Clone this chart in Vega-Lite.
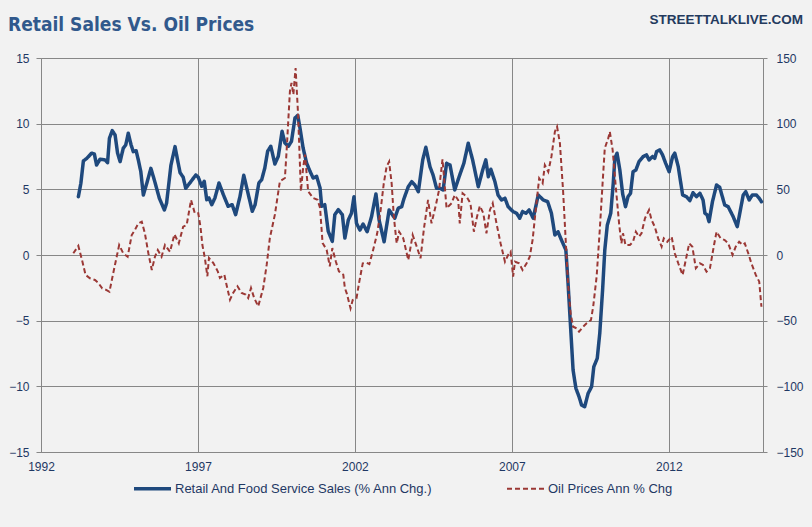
{
  "$schema": "https://vega.github.io/schema/vega-lite/v6.json",
  "width": 722,
  "height": 394,
  "autosize": {"type": "none"},
  "padding": {"left": 41, "top": 58, "right": 49, "bottom": 75},
  "background": "#f2f2f2",
  "config": {
    "view": {"stroke": null},
    "font": "Liberation Sans",
    "axis": {"labelFont": "Liberation Sans", "labelFontSize": 12, "labelColor": "#1f3864", "gridColor": "#878787", "domainColor": "#878787", "tickColor": "#878787", "gridOpacity": 1, "domainWidth": 1, "gridWidth": 1}
  },
  "datasets": {
    "retail": [
      {"t":1993.19,"v":4.44},{"t":1993.27,"v":5.46},{"t":1993.35,"v":7.16},{"t":1993.46,"v":7.36},{"t":1993.61,"v":7.75},{"t":1993.70,"v":7.69},{"t":1993.77,"v":6.85},{"t":1993.88,"v":7.29},{"t":1994.04,"v":7.24},{"t":1994.12,"v":7.03},{"t":1994.18,"v":8.89},{"t":1994.27,"v":9.47},{"t":1994.36,"v":9.14},{"t":1994.44,"v":7.75},{"t":1994.52,"v":7.11},{"t":1994.62,"v":8.13},{"t":1994.70,"v":8.38},{"t":1994.78,"v":9.27},{"t":1994.87,"v":8.38},{"t":1994.94,"v":7.87},{"t":1995.03,"v":7.94},{"t":1995.10,"v":7.24},{"t":1995.18,"v":6.34},{"t":1995.26,"v":4.57},{"t":1995.37,"v":5.46},{"t":1995.50,"v":6.60},{"t":1995.61,"v":5.71},{"t":1995.77,"v":4.32},{"t":1995.93,"v":3.43},{"t":1996.00,"v":3.94},{"t":1996.14,"v":6.85},{"t":1996.27,"v":8.25},{"t":1996.35,"v":7.24},{"t":1996.43,"v":6.27},{"t":1996.53,"v":5.92},{"t":1996.61,"v":5.08},{"t":1996.75,"v":5.51},{"t":1996.93,"v":6.09},{"t":1997.01,"v":5.92},{"t":1997.12,"v":5.23},{"t":1997.20,"v":5.61},{"t":1997.28,"v":4.21},{"t":1997.35,"v":4.34},{"t":1997.44,"v":3.83},{"t":1997.54,"v":4.34},{"t":1997.67,"v":5.48},{"t":1997.81,"v":4.59},{"t":1997.96,"v":3.71},{"t":1998.09,"v":3.83},{"t":1998.20,"v":3.07},{"t":1998.34,"v":4.47},{"t":1998.46,"v":6.07},{"t":1998.58,"v":4.85},{"t":1998.73,"v":3.33},{"t":1998.82,"v":3.83},{"t":1998.94,"v":5.48},{"t":1999.03,"v":5.73},{"t":1999.13,"v":6.63},{"t":1999.22,"v":7.90},{"t":1999.32,"v":8.28},{"t":1999.45,"v":6.93},{"t":1999.56,"v":7.52},{"t":1999.68,"v":9.42},{"t":1999.77,"v":8.53},{"t":1999.88,"v":8.28},{"t":1999.98,"v":8.66},{"t":2000.09,"v":10.43},{"t":2000.18,"v":10.64},{"t":2000.25,"v":9.67},{"t":2000.35,"v":8.15},{"t":2000.46,"v":7.01},{"t":2000.57,"v":6.37},{"t":2000.67,"v":5.86},{"t":2000.78,"v":5.99},{"t":2000.89,"v":5.10},{"t":2000.94,"v":3.71},{"t":2001.04,"v":3.83},{"t":2001.15,"v":1.81},{"t":2001.28,"v":1.04},{"t":2001.36,"v":3.07},{"t":2001.47,"v":3.45},{"t":2001.60,"v":3.07},{"t":2001.68,"v":1.29},{"t":2001.79,"v":2.67},{"t":2001.89,"v":3.18},{"t":2001.97,"v":4.44},{"t":2002.05,"v":2.41},{"t":2002.16,"v":1.90},{"t":2002.26,"v":2.36},{"t":2002.39,"v":1.77},{"t":2002.53,"v":2.92},{"t":2002.67,"v":4.65},{"t":2002.77,"v":2.67},{"t":2002.93,"v":1.01},{"t":2003.09,"v":3.43},{"t":2003.27,"v":2.80},{"t":2003.38,"v":3.56},{"t":2003.49,"v":3.68},{"t":2003.56,"v":4.27},{"t":2003.70,"v":5.20},{"t":2003.81,"v":5.58},{"t":2003.91,"v":5.33},{"t":2004.02,"v":4.82},{"t":2004.16,"v":7.24},{"t":2004.26,"v":8.20},{"t":2004.39,"v":6.73},{"t":2004.49,"v":6.09},{"t":2004.60,"v":5.08},{"t":2004.71,"v":5.08},{"t":2004.81,"v":4.95},{"t":2004.92,"v":6.98},{"t":2005.03,"v":6.85},{"t":2005.18,"v":4.95},{"t":2005.32,"v":5.96},{"t":2005.47,"v":6.98},{"t":2005.61,"v":8.51},{"t":2005.75,"v":7.24},{"t":2005.93,"v":5.20},{"t":2006.07,"v":6.47},{"t":2006.17,"v":7.24},{"t":2006.25,"v":5.96},{"t":2006.33,"v":6.53},{"t":2006.46,"v":5.58},{"t":2006.56,"v":4.57},{"t":2006.67,"v":4.19},{"t":2006.78,"v":4.32},{"t":2006.88,"v":3.68},{"t":2007.04,"v":3.30},{"t":2007.15,"v":3.18},{"t":2007.25,"v":2.80},{"t":2007.34,"v":3.30},{"t":2007.45,"v":3.18},{"t":2007.55,"v":3.43},{"t":2007.68,"v":2.80},{"t":2007.84,"v":4.57},{"t":2008.00,"v":4.19},{"t":2008.14,"v":4.06},{"t":2008.26,"v":3.18},{"t":2008.37,"v":1.52},{"t":2008.47,"v":1.77},{"t":2008.58,"v":1.14},{"t":2008.72,"v":0.38},{"t":2008.79,"v":-2.16},{"t":2008.87,"v":-5.46},{"t":2008.95,"v":-8.76},{"t":2009.04,"v":-10.15},{"t":2009.14,"v":-10.79},{"t":2009.22,"v":-11.42},{"t":2009.32,"v":-11.55},{"t":2009.43,"v":-10.53},{"t":2009.54,"v":-10.03},{"t":2009.61,"v":-8.51},{"t":2009.72,"v":-7.87},{"t":2009.80,"v":-5.96},{"t":2009.89,"v":-2.67},{"t":2009.96,"v":0.38},{"t":2010.04,"v":2.28},{"t":2010.15,"v":3.18},{"t":2010.23,"v":5.46},{"t":2010.28,"v":7.36},{"t":2010.35,"v":7.75},{"t":2010.44,"v":6.47},{"t":2010.53,"v":4.65},{"t":2010.62,"v":3.68},{"t":2010.70,"v":4.44},{"t":2010.78,"v":4.70},{"t":2010.86,"v":6.34},{"t":2010.95,"v":6.47},{"t":2011.05,"v":7.11},{"t":2011.18,"v":7.49},{"t":2011.29,"v":7.62},{"t":2011.37,"v":7.24},{"t":2011.48,"v":7.49},{"t":2011.55,"v":7.36},{"t":2011.61,"v":7.87},{"t":2011.71,"v":8.00},{"t":2011.80,"v":7.62},{"t":2011.90,"v":6.98},{"t":2012.01,"v":6.34},{"t":2012.12,"v":7.49},{"t":2012.19,"v":7.75},{"t":2012.30,"v":6.73},{"t":2012.44,"v":4.57},{"t":2012.56,"v":4.44},{"t":2012.67,"v":4.14},{"t":2012.77,"v":4.74},{"t":2012.88,"v":4.44},{"t":2012.99,"v":4.70},{"t":2013.09,"v":4.19},{"t":2013.15,"v":3.18},{"t":2013.22,"v":3.05},{"t":2013.28,"v":2.54},{"t":2013.39,"v":4.06},{"t":2013.52,"v":5.33},{"t":2013.62,"v":5.16},{"t":2013.78,"v":3.81},{"t":2013.89,"v":3.68},{"t":2014.05,"v":2.92},{"t":2014.18,"v":2.16},{"t":2014.28,"v":3.43},{"t":2014.37,"v":4.57},{"t":2014.45,"v":4.82},{"t":2014.56,"v":4.19},{"t":2014.66,"v":4.57},{"t":2014.79,"v":4.57},{"t":2014.88,"v":4.32},{"t":2014.95,"v":4.06}
    ],
    "oil": [
      {"t":1993.03,"v":1.3},{"t":1993.19,"v":6.9},{"t":1993.32,"v":-5.1},{"t":1993.42,"v":-15.2},{"t":1993.56,"v":-17.7},{"t":1993.72,"v":-19.0},{"t":1993.82,"v":-21.1},{"t":1993.95,"v":-25.4},{"t":1994.09,"v":-26.7},{"t":1994.18,"v":-28.0},{"t":1994.30,"v":-13.9},{"t":1994.49,"v":7.6},{"t":1994.62,"v":1.3},{"t":1994.76,"v":-1.3},{"t":1994.89,"v":15.2},{"t":1994.99,"v":19.0},{"t":1995.10,"v":24.1},{"t":1995.21,"v":25.4},{"t":1995.31,"v":16.5},{"t":1995.42,"v":1.3},{"t":1995.53,"v":-11.4},{"t":1995.63,"v":-1.3},{"t":1995.72,"v":3.8},{"t":1995.84,"v":-1.3},{"t":1995.95,"v":7.6},{"t":1996.11,"v":2.5},{"t":1996.25,"v":15.8},{"t":1996.39,"v":8.9},{"t":1996.53,"v":21.6},{"t":1996.64,"v":22.8},{"t":1996.78,"v":41.9},{"t":1996.90,"v":31.8},{"t":1997.01,"v":31.8},{"t":1997.08,"v":21.6},{"t":1997.14,"v":7.8},{"t":1997.22,"v":-2.3},{"t":1997.30,"v":-16.2},{"t":1997.35,"v":-2.3},{"t":1997.49,"v":-6.1},{"t":1997.63,"v":-12.4},{"t":1997.70,"v":-17.5},{"t":1997.84,"v":-15.0},{"t":1997.91,"v":-22.6},{"t":1998.02,"v":-34.0},{"t":1998.12,"v":-28.9},{"t":1998.26,"v":-23.8},{"t":1998.39,"v":-28.9},{"t":1998.52,"v":-30.2},{"t":1998.60,"v":-32.7},{"t":1998.69,"v":-25.1},{"t":1998.79,"v":-32.7},{"t":1998.92,"v":-39.1},{"t":1999.08,"v":-25.1},{"t":1999.19,"v":-7.4},{"t":1999.29,"v":12.9},{"t":1999.45,"v":30.7},{"t":1999.61,"v":56.1},{"t":1999.77,"v":58.6},{"t":1999.82,"v":77.7},{"t":1999.93,"v":124.7},{"t":1999.98,"v":131.0},{"t":2000.04,"v":122.1},{"t":2000.11,"v":142.4},{"t":2000.19,"v":106.9},{"t":2000.28,"v":48.5},{"t":2000.35,"v":66.3},{"t":2000.41,"v":76.4},{"t":2000.51,"v":48.5},{"t":2000.67,"v":43.4},{"t":2000.81,"v":42.1},{"t":2000.89,"v":35.8},{"t":2000.97,"v":9.1},{"t":2001.10,"v":4.0},{"t":2001.20,"v":-8.6},{"t":2001.28,"v":5.3},{"t":2001.39,"v":-4.8},{"t":2001.49,"v":-12.4},{"t":2001.63,"v":-15.0},{"t":2001.68,"v":-25.1},{"t":2001.74,"v":-29.2},{"t":2001.86,"v":-40.6},{"t":2001.93,"v":-34.3},{"t":2002.05,"v":-33.0},{"t":2002.14,"v":-20.3},{"t":2002.25,"v":-6.3},{"t":2002.37,"v":-5.9},{"t":2002.46,"v":-6.9},{"t":2002.58,"v":3.8},{"t":2002.71,"v":16.5},{"t":2002.82,"v":34.3},{"t":2002.92,"v":54.6},{"t":2003.01,"v":67.3},{"t":2003.09,"v":71.1},{"t":2003.17,"v":54.6},{"t":2003.24,"v":29.2},{"t":2003.33,"v":8.9},{"t":2003.41,"v":17.7},{"t":2003.54,"v":12.7},{"t":2003.70,"v":-3.8},{"t":2003.84,"v":15.2},{"t":2003.97,"v":6.3},{"t":2004.09,"v":-2.5},{"t":2004.20,"v":20.3},{"t":2004.33,"v":41.9},{"t":2004.44,"v":24.1},{"t":2004.58,"v":38.1},{"t":2004.68,"v":49.5},{"t":2004.79,"v":72.9},{"t":2004.92,"v":35.6},{"t":2005.08,"v":39.4},{"t":2005.18,"v":45.7},{"t":2005.29,"v":41.9},{"t":2005.34,"v":24.1},{"t":2005.43,"v":47.0},{"t":2005.56,"v":44.4},{"t":2005.68,"v":39.4},{"t":2005.79,"v":17.7},{"t":2005.89,"v":29.2},{"t":2005.98,"v":37.3},{"t":2006.09,"v":31.8},{"t":2006.19,"v":16.5},{"t":2006.30,"v":34.3},{"t":2006.39,"v":39.4},{"t":2006.51,"v":24.1},{"t":2006.64,"v":8.9},{"t":2006.78,"v":-5.1},{"t":2006.88,"v":0.0},{"t":2006.96,"v":2.5},{"t":2007.04,"v":-16.5},{"t":2007.10,"v":-5.1},{"t":2007.23,"v":-6.3},{"t":2007.34,"v":-11.4},{"t":2007.47,"v":-6.3},{"t":2007.57,"v":-1.3},{"t":2007.66,"v":11.4},{"t":2007.76,"v":34.3},{"t":2007.87,"v":58.4},{"t":2007.98,"v":54.6},{"t":2008.05,"v":68.5},{"t":2008.16,"v":63.4},{"t":2008.26,"v":74.9},{"t":2008.37,"v":93.9},{"t":2008.44,"v":97.7},{"t":2008.53,"v":85.1},{"t":2008.63,"v":49.5},{"t":2008.72,"v":8.9},{"t":2008.79,"v":-21.6},{"t":2008.87,"v":-44.4},{"t":2008.95,"v":-54.6},{"t":2009.06,"v":-55.8},{"t":2009.14,"v":-58.4},{"t":2009.27,"v":-54.6},{"t":2009.38,"v":-52.0},{"t":2009.52,"v":-49.5},{"t":2009.59,"v":-39.4},{"t":2009.70,"v":-16.5},{"t":2009.80,"v":19.0},{"t":2009.89,"v":54.6},{"t":2009.96,"v":81.3},{"t":2010.07,"v":88.9},{"t":2010.12,"v":93.9},{"t":2010.21,"v":80.0},{"t":2010.31,"v":52.0},{"t":2010.42,"v":22.8},{"t":2010.49,"v":8.9},{"t":2010.54,"v":16.5},{"t":2010.62,"v":7.6},{"t":2010.76,"v":7.6},{"t":2010.86,"v":10.1},{"t":2010.95,"v":17.7},{"t":2011.05,"v":13.9},{"t":2011.13,"v":16.5},{"t":2011.24,"v":28.0},{"t":2011.37,"v":34.3},{"t":2011.45,"v":26.7},{"t":2011.55,"v":21.6},{"t":2011.66,"v":12.7},{"t":2011.77,"v":6.3},{"t":2011.84,"v":12.7},{"t":2011.95,"v":10.1},{"t":2012.09,"v":13.9},{"t":2012.19,"v":1.3},{"t":2012.30,"v":-6.3},{"t":2012.44,"v":-15.2},{"t":2012.54,"v":-3.8},{"t":2012.65,"v":8.9},{"t":2012.75,"v":6.3},{"t":2012.86,"v":-10.1},{"t":2012.99,"v":-6.3},{"t":2013.09,"v":-7.6},{"t":2013.20,"v":-12.7},{"t":2013.31,"v":-10.1},{"t":2013.44,"v":7.6},{"t":2013.52,"v":17.7},{"t":2013.65,"v":12.7},{"t":2013.78,"v":11.4},{"t":2013.89,"v":8.9},{"t":2014.03,"v":0.0},{"t":2014.13,"v":6.3},{"t":2014.24,"v":10.1},{"t":2014.35,"v":7.6},{"t":2014.42,"v":8.9},{"t":2014.53,"v":1.3},{"t":2014.63,"v":-6.3},{"t":2014.77,"v":-15.2},{"t":2014.88,"v":-20.3},{"t":2014.95,"v":-39.4}
    ]
  },
  "layer": [
    {
      "data": {"name": "retail"},
      "mark": {"type": "line", "strokeWidth": 3.5, "strokeJoin": "round", "strokeCap": "round"},
      "encoding": {
        "x": {
          "field": "t", "type": "quantitative",
          "scale": {"domain": [1992, 2015], "nice": false, "zero": false},
          "axis": {"title": null, "values": [1992, 1997, 2002, 2007, 2012], "format": "d", "grid": true, "ticks": false, "labelPadding": 9, "labelFlush": false}
        },
        "y": {
          "field": "v", "type": "quantitative",
          "scale": {"domain": [-15, 15], "nice": false, "zero": false},
          "axis": {"title": null, "values": [-15, -10, -5, 0, 5, 10, 15], "grid": true, "ticks": true, "tickSize": 5, "labelPadding": 7}
        },
        "color": {
          "datum": "Retail And Food Service Sales (% Ann Chg.)",
          "scale": {"domain": ["Retail And Food Service Sales (% Ann Chg.)", "Oil Prices Ann % Chg"], "range": ["#1f497d", "#9b3835"]},
          "legend": {
            "title": null, "orient": "none", "legendX": 105, "legendY": 424, "direction": "horizontal", "symbolType": "stroke", "symbolSize": 1369,
            "labelFont": "Liberation Sans", "labelFontSize": 13, "labelColor": "#1f3864", "labelOffset": 16, "labelLimit": 500, "columnPadding": 70,
            "encode": {"symbols": {"update": {"strokeWidth": {"signal": "datum.value === 'Oil Prices Ann % Chg' ? 2 : 3.5"}}}}
          }
        },
        "strokeDash": {
          "datum": "Retail And Food Service Sales (% Ann Chg.)",
          "scale": {"domain": ["Retail And Food Service Sales (% Ann Chg.)", "Oil Prices Ann % Chg"], "range": [[1, 0], [5, 3]]},
          "legend": {"title": null}
        }
      }
    },
    {
      "data": {"name": "oil"},
      "mark": {"type": "line", "strokeWidth": 2},
      "encoding": {
        "x": {"field": "t", "type": "quantitative"},
        "y": {
          "field": "v", "type": "quantitative",
          "scale": {"domain": [-150, 150], "nice": false, "zero": false},
          "axis": {"orient": "right", "title": null, "values": [-150, -100, -50, 0, 50, 100, 150], "grid": false, "ticks": true, "tickSize": 4, "labelPadding": 9}
        },
        "color": {"datum": "Oil Prices Ann % Chg"},
        "strokeDash": {"datum": "Oil Prices Ann % Chg"}
      }
    },
    {
      "data": {"values": [{"label": "Retail Sales Vs. Oil Prices"}]},
      "mark": {"type": "text", "align": "left", "baseline": "alphabetic", "dx": -33, "dy": -27, "font": "Liberation Sans Narrow, DejaVu Sans Condensed, sans-serif", "fontSize": 19, "fontWeight": "bold", "color": "#31598c"},
      "encoding": {
        "x": {"datum": 1992, "type": "quantitative"},
        "y": {"datum": 15, "type": "quantitative", "scale": {"domain": [-15, 15], "nice": false, "zero": false}, "axis": null},
        "text": {"field": "label"}
      }
    },
    {
      "data": {"values": [{"label": "STREETTALKLIVE.COM"}]},
      "mark": {"type": "text", "align": "right", "baseline": "alphabetic", "dx": 40, "dy": -34, "font": "Liberation Sans", "fontSize": 13.5, "fontWeight": "bold", "color": "#243a5e"},
      "encoding": {
        "x": {"datum": 2015, "type": "quantitative"},
        "y": {"datum": 15, "type": "quantitative", "scale": {"domain": [-15, 15], "nice": false, "zero": false}, "axis": null},
        "text": {"field": "label"}
      }
    }
  ],
  "resolve": {"scale": {"y": "independent"}}
}
